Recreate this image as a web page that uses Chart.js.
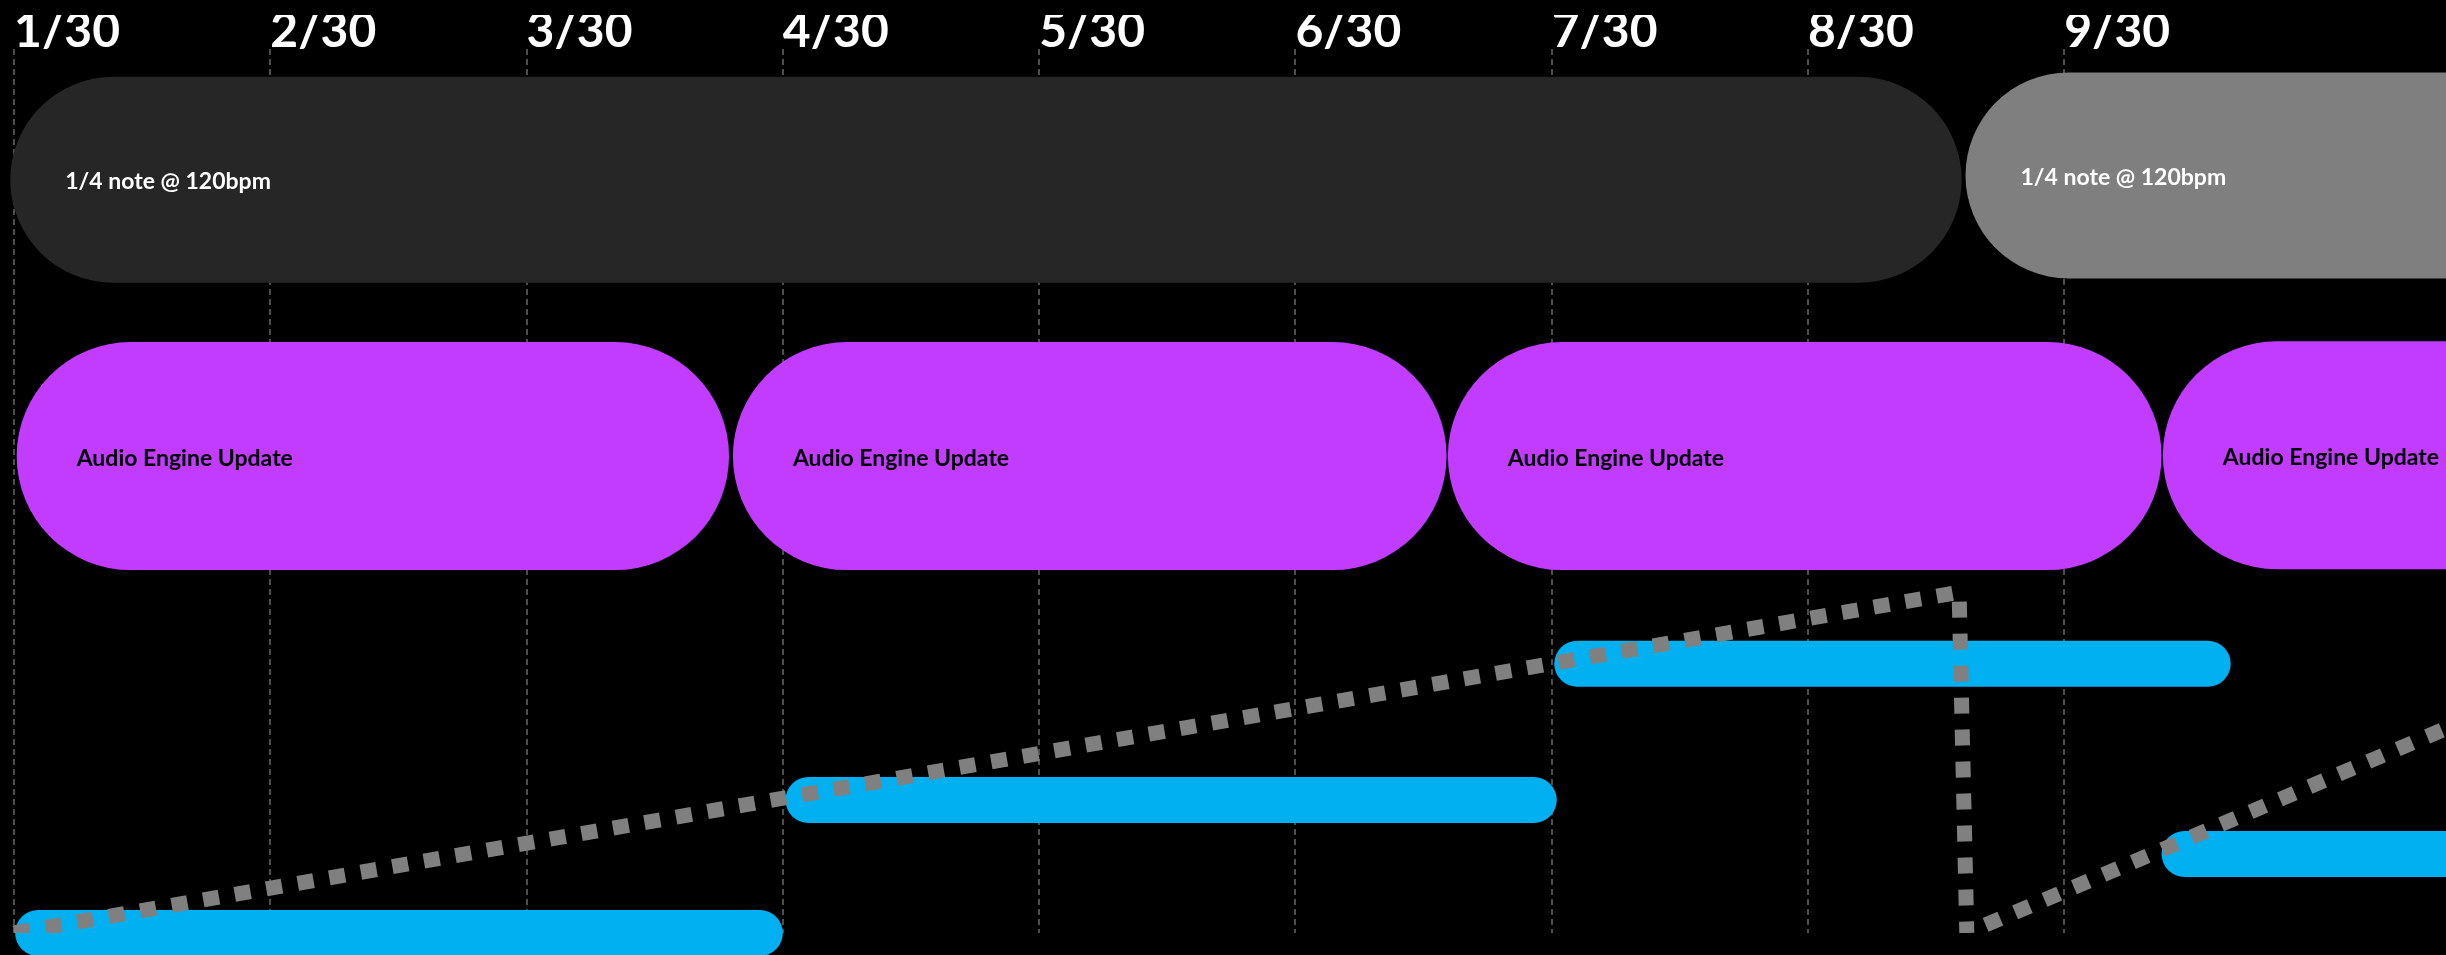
<!DOCTYPE html>
<html>
<head>
<meta charset="utf-8">
<script src="https://cdn.jsdelivr.net/npm/chart.js@4/dist/chart.umd.min.js"></script>
<style>
  html, body { margin: 0; padding: 0; background: #000; }
  canvas { display: block; }
</style>
</head>
<body>
<canvas id="timeline" width="2446" height="955"></canvas>
<script>
// day ticks along the top
const tickLabels = ['1/30', '2/30', '3/30', '4/30', '5/30', '6/30', '7/30', '8/30', '9/30'];

// tempo row
const tempoStarts = [-0.015, 7.615];
const tempoEnds = [7.6, 10.6];
const tempoLevels = [17.04, 17.14];
const tempoLabels = ['1/4 note @ 120bpm', '1/4 note @ 120bpm'];

// update row
const updateStarts = [0.01, 2.805, 5.595, 8.385];
const updateEnds = [2.79, 5.59, 8.38, 11.2];
const updateLevels = [10.79, 10.79, 10.79, 10.81];
const updateLabels = ['Audio Engine Update', 'Audio Engine Update', 'Audio Engine Update', 'Audio Engine Update'];

// cyan steps
const stepStarts = [0, 3.01, 6.01, 8.38];
const stepEnds = [3.0, 6.02, 8.65, 11.2];
const stepLevels = [0, 3.01, 6.09, 1.79];

// dotted ramp
const rampDays = [0, 7.59, 7.62, 9.6];
const rampLevels = [0, 7.71, 0, 4.9];

const toBars = (starts, ends, levels) => starts.map((s, i) => ({ x: [s, ends[i]], y: levels[i] }));

const barText = {
    id: 'barText',
    afterDatasetsDraw(chart) {
        const ctx = chart.ctx;
        chart.data.datasets.forEach((ds, i) => {
            if (!ds.barLabels) return;
            chart.getDatasetMeta(i).data.forEach((bar, j) => {
                const left = Math.min(bar.x, bar.base);
                ctx.save();
                ctx.font = 'bold 23px Lato';
                ctx.fillStyle = ds.labelColor;
                ctx.textBaseline = 'middle';
                ctx.fillText(ds.barLabels[j], left + ds.labelInset, bar.y + 2);
                ctx.restore();
            });
        });
    }
};

const barStyle = {
    type: 'bar',
    indexAxis: 'y',
    stack: 'rows',
    borderRadius: 999,
    borderSkipped: false,
    inflateAmount: 0,
    clip: false,
    order: 1
};

const chartData = {
    datasets: [
        {
            type: 'line',
            data: rampDays.map((d, i) => ({ x: d, y: rampLevels[i] })),
            borderColor: '#808080',
            borderWidth: 15,
            borderDash: [16, 16],
            borderCapStyle: 'butt',
            borderJoinStyle: 'miter',
            pointRadius: 0,
            tension: 0,
            fill: false,
            order: 0
        },
        {
            ...barStyle,
            data: toBars(tempoStarts, tempoEnds, tempoLevels),
            backgroundColor: ['#262626', '#7f7f7f'],
            barThickness: 206,
            barLabels: tempoLabels,
            labelColor: '#ffffff',
            labelInset: 55
        },
        {
            ...barStyle,
            data: toBars(updateStarts, updateEnds, updateLevels),
            backgroundColor: '#c13cff',
            barThickness: 228,
            barLabels: updateLabels,
            labelColor: '#000000',
            labelInset: 60
        },
        {
            ...barStyle,
            data: toBars(stepStarts, stepEnds, stepLevels),
            backgroundColor: '#00b0f0',
            barThickness: 46
        }
    ]
};

const chartConfig = {
    type: 'bar',
    data: chartData,
    options: {
        responsive: false,
        animation: false,
        devicePixelRatio: 1,
        events: [],
        layout: { padding: { top: 15, right: 0, bottom: 22, left: 0 } },
        plugins: {
            legend: { display: false },
            tooltip: { enabled: false }
        },
        scales: {
            x: {
                type: 'linear',
                position: 'top',
                min: -0.055,
                max: 9.49,
                stacked: false,
                offset: false,
                afterBuildTicks: (scale) => {
                    scale.ticks = tickLabels.map((_, i) => ({ value: i }));
                },
                grid: { color: '#4d4d4d', lineWidth: 2, drawTicks: false, offset: false },
                border: { display: false, dash: [6, 4] },
                ticks: {
                    align: 'start',
                    color: '#ffffff',
                    padding: 0,
                    autoSkip: false,
                    maxRotation: 0,
                    font: { family: 'Lato', weight: 'bold', size: 48, lineHeight: 34 / 48 },
                    callback: (value, index) => tickLabels[index]
                }
            },
            y: {
                type: 'linear',
                display: false,
                min: 0,
                max: 20,
                offset: false
            }
        }
    },
    plugins: [barText]
};

const timelineChart = new Chart(document.getElementById('timeline').getContext('2d'), chartConfig);
</script>
</body>
</html>
